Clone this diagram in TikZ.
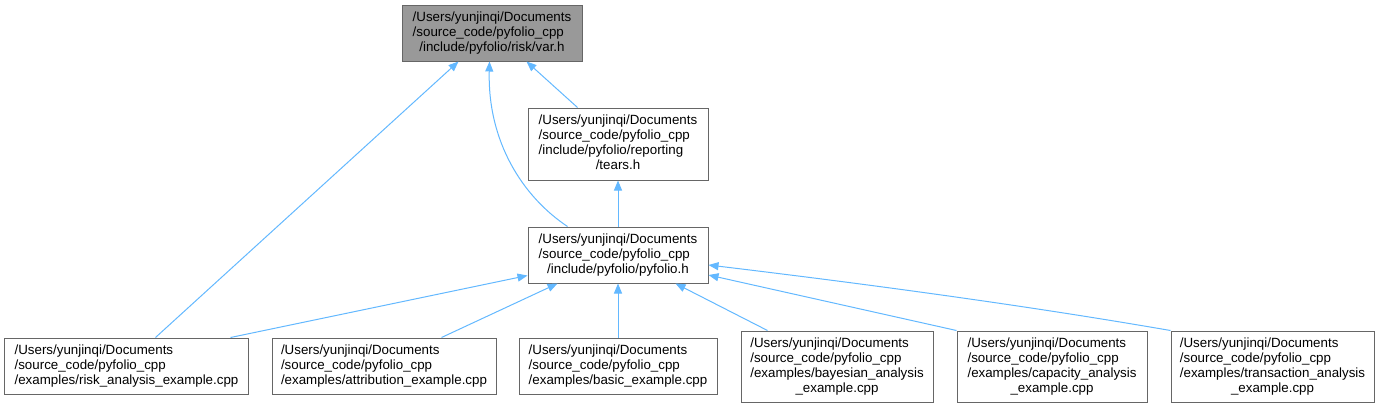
\documentclass[tikz,border=0pt]{standalone}
\usepackage{fontspec}
\setmainfont{Liberation Sans}
\usetikzlibrary{arrows.meta,calc}
\definecolor{edgeblue}{HTML}{63B8FF}
\definecolor{boxgray}{HTML}{666666}
\definecolor{fillgray}{HTML}{999999}
\newcommand{\ttab}[1]{\raisebox{-1.5bp}{\begin{tabular}{@{}l@{}}#1\end{tabular}}}
\newcommand{\lastc}[1]{\multicolumn{1}{@{}c@{}}{#1}}
\begin{document}
\begin{tikzpicture}[x=1bp,y=-1bp,
  box/.style={draw=boxgray, line width=1bp, fill=white, rectangle, inner sep=0pt,
    font=\fontsize{13.33bp}{15bp}\selectfont, align=center},
  edge/.style={draw=edgeblue, line width=1bp, -{Triangle[length=10bp,width=8bp]}}]
\useasboundingbox (0,0) rectangle (1381,407);
\node[box, fill=fillgray, minimum width=180bp, minimum height=56bp] (var) at (492,33)
  {\ttab{/Users/yunjinqi/Documents\\/source\_code/pyfolio\_cpp\\\lastc{/include/pyfolio/risk/var.h}}};
\node[box, minimum width=180bp, minimum height=72bp] (tears) at (618,144)
  {\ttab{/Users/yunjinqi/Documents\\/source\_code/pyfolio\_cpp\\/include/pyfolio/reporting\\\lastc{/tears.h}}};
\node[box, minimum width=180bp, minimum height=56bp] (pyf) at (618,255)
  {\ttab{/Users/yunjinqi/Documents\\/source\_code/pyfolio\_cpp\\\lastc{/include/pyfolio/pyfolio.h}}};
\node[box, minimum width=243bp, minimum height=56bp] (risk) at (126.5,366)
  {\ttab{/Users/yunjinqi/Documents\\/source\_code/pyfolio\_cpp\\\lastc{/examples/risk\_analysis\_example.cpp}}};
\node[box, minimum width=224bp, minimum height=56bp] (attr) at (384,366)
  {\ttab{/Users/yunjinqi/Documents\\/source\_code/pyfolio\_cpp\\\lastc{/examples/attribution\_example.cpp}}};
\node[box, minimum width=198bp, minimum height=56bp] (basic) at (618,366)
  {\ttab{/Users/yunjinqi/Documents\\/source\_code/pyfolio\_cpp\\\lastc{/examples/basic\_example.cpp}}};
\node[box, minimum width=192bp, minimum height=71bp] (bayes) at (837,366.5)
  {\ttab{/Users/yunjinqi/Documents\\/source\_code/pyfolio\_cpp\\/examples/bayesian\_analysis\\\lastc{\_example.cpp}}};
\node[box, minimum width=190bp, minimum height=71bp] (cap) at (1052,366.5)
  {\ttab{/Users/yunjinqi/Documents\\/source\_code/pyfolio\_cpp\\/examples/capacity\_analysis\\\lastc{\_example.cpp}}};
\node[box, minimum width=203bp, minimum height=71bp] (trans) at (1272.5,366.5)
  {\ttab{/Users/yunjinqi/Documents\\/source\_code/pyfolio\_cpp\\/examples/transaction\_analysis\\\lastc{\_example.cpp}}};
% edges
\draw[edge] ($(risk.north west)+(151,0)$) -- ($(var.south west)+(57,0)$);
\draw[edge] ($(pyf.north west)+(40,0)$) .. controls +(-45,-30) and +(-2,80) .. ($(var.south west)+(88,0)$);
\draw[edge] ($(tears.north west)+(50,0)$) -- ($(var.south west)+(125,0)$);
\draw[edge] (pyf.north) -- (tears.south);
\draw[edge] ($(risk.north west)+(226,0)$) -- ($(pyf.south west)+(0,-8)$);
\draw[edge] ($(attr.north west)+(170,0)$) -- ($(pyf.south west)+(30,0)$);
\draw[edge] (basic.north) -- (pyf.south);
\draw[edge] ($(bayes.north west)+(27,0)$) -- ($(pyf.south east)+(-33,0)$);
\draw[edge] (cap.north west) -- ($(pyf.east)+(0,20)$);
\draw[edge] (trans.north west) .. controls +(-150,-26) and +(150,18) .. ($(pyf.east)+(0,10)$);
\end{tikzpicture}
\end{document}
